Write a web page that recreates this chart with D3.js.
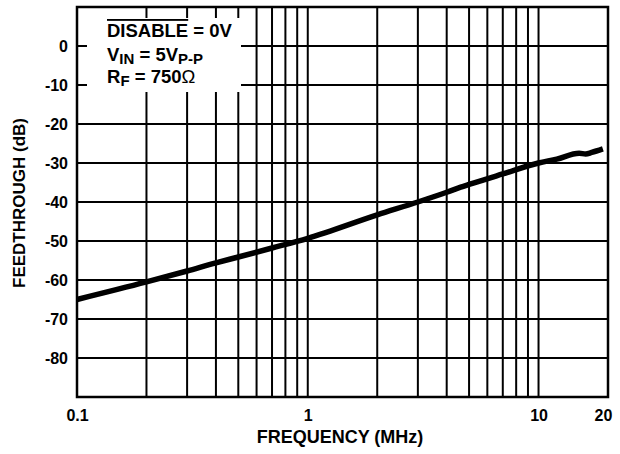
<!DOCTYPE html>
<html><head><meta charset="utf-8">
<script src="https://cdn.jsdelivr.net/npm/d3@7"></script>
<style>body{margin:0;background:#fff}svg{display:block}text{font-family:"Liberation Sans",Arial,sans-serif;font-weight:bold;fill:#000}</style>
</head><body><svg id="c" width="620" height="454"></svg>
<script>
const freqMHz = [0.1,0.2,0.3,0.4,0.5,0.7,1,2,3,4,4.6,5,7,10,12,15,16,17,19];
const feedthroughDb = [-65,-60.5,-57.7,-55.6,-54.1,-51.8,-49.3,-43.3,-40,-37.5,-36.2,-35.5,-32.8,-30,-29,-27.5,-27.7,-27.3,-26.4];
const yTicks = [0,-10,-20,-30,-40,-50,-60,-70,-80];
const xLabelTicks = [0.1,1,10,20];
const xGrid = [0.2,0.3,0.4,0.5,0.6,0.7,0.8,0.9,1,2,3,4,5,6,7,8,9,10];

const svg = d3.select("#c");
const L=77,R=608,T=7,B=397;
const x = d3.scaleLog().domain([0.1,20]).range([L,R]);
const y = d3.scaleLinear().domain([-90,10]).range([B,T]);

const g = svg.append("g");
// grid
g.selectAll(".vg").data(xGrid).enter().append("line")
 .attr("x1",d=>x(d)).attr("x2",d=>x(d)).attr("y1",T).attr("y2",B)
 .attr("stroke","#000").attr("stroke-width",2);
g.selectAll(".hg").data(yTicks).enter().append("line")
 .attr("x1",L).attr("x2",R).attr("y1",d=>y(d)).attr("y2",d=>y(d))
 .attr("stroke","#000").attr("stroke-width",2);
// legend box (white background)
g.append("rect").attr("x",87).attr("y",18).attr("width",154).attr("height",74).attr("fill","#fff");
// border
g.append("rect").attr("x",L).attr("y",T).attr("width",R-L).attr("height",B-T)
 .attr("fill","none").attr("stroke","#000").attr("stroke-width",2.5);

// curve
const line = d3.line().x((d,i)=>x(freqMHz[i])).y(d=>y(d)).curve(d3.curveMonotoneX);
g.append("path").datum(feedthroughDb).attr("d",line).attr("fill","none")
 .attr("stroke","#000").attr("stroke-width",5.5).attr("stroke-linejoin","round");

// y axis labels
const ya = d3.axisLeft(y).tickValues(yTicks).tickSize(0).tickPadding(9).tickFormat(d=>String(d));
const yg = svg.append("g").attr("transform",`translate(${L},0)`).call(ya);
yg.select(".domain").remove();
yg.selectAll("text").attr("font-size",16).attr("dy","0.36em").style("font-family","'Liberation Sans',Arial,sans-serif").style("font-weight","bold");

// x axis labels
const xa = d3.axisBottom(x).tickValues(xLabelTicks).tickSize(0).tickPadding(13).tickFormat(d=>String(d));
const xg = svg.append("g").attr("transform",`translate(0,${B})`).call(xa);
xg.select(".domain").remove();
xg.selectAll("text").attr("font-size",16).style("font-family","'Liberation Sans',Arial,sans-serif").style("font-weight","bold")
 .attr("dx",d=>d===20?-5:0);

// axis titles
svg.append("text").attr("x",340).attr("y",443).attr("text-anchor","middle").attr("font-size",18).text("FREQUENCY (MHz)");
svg.append("text").attr("transform","translate(25,203) rotate(-90)").attr("text-anchor","middle").attr("font-size",17).text("FEEDTHROUGH (dB)");

// legend text
const lx=107, fs=18.5, sfs=15;
const t1 = svg.append("text").attr("x",lx).attr("y",37).attr("font-size",fs);
t1.append("tspan").attr("text-decoration","overline").text("DISABLE");
t1.append("tspan").text(" = 0V");
const t2 = svg.append("text").attr("x",lx).attr("y",61).attr("font-size",fs);
t2.append("tspan").text("V");
t2.append("tspan").attr("dy",3).attr("font-size",sfs).text("IN");
t2.append("tspan").attr("dy",-3).text(" = 5V");
t2.append("tspan").attr("dy",3).attr("font-size",sfs).text("P-P");
const t3 = svg.append("text").attr("x",lx).attr("y",83).attr("font-size",fs);
t3.append("tspan").text("R");
t3.append("tspan").attr("dy",3).attr("font-size",sfs).text("F");
t3.append("tspan").attr("dy",-3).text(" = 750");
t3.append("tspan").style("font-weight","normal").text("Ω");
</script></body></html>
